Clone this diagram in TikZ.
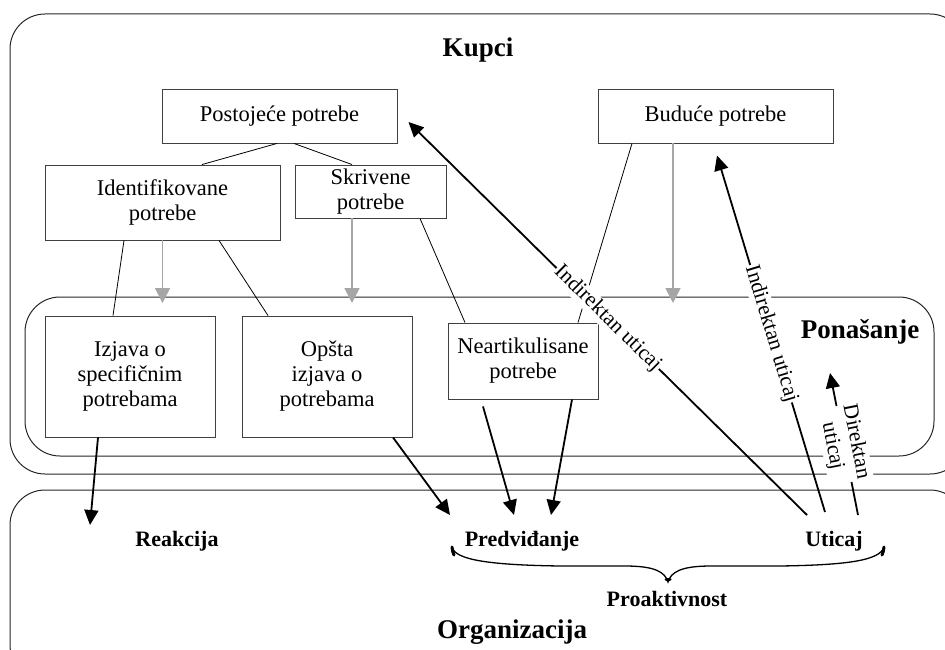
\documentclass[tikz,border=0pt]{standalone}
\usepackage{fontspec}
\setmainfont{Liberation Serif}
\usetikzlibrary{arrows.meta}
\begin{document}
\begin{tikzpicture}[x=1pt,y=-1pt,
  needbox/.style={draw=black!75, line width=0.9pt, align=center, inner sep=2pt,
    font=\fontsize{22.5}{25}\selectfont},
  region/.style={draw=black!85, line width=1pt, rounded corners=35pt},
  title/.style={font=\fontsize{27}{30}\selectfont\bfseries},
  stage/.style={font=\fontsize{22}{25}\selectfont\bfseries},
  link/.style={draw=black, line width=0.8pt},
  flow/.style={draw=black, line width=1.8pt, -{Triangle[length=15pt,width=14pt]}},
  derive/.style={draw=black!35, line width=1.6pt, -{Triangle[length=15pt,width=15pt]}},
  influence/.style={font=\fontsize{21.5}{24}\selectfont, fill=white, inner sep=1pt,
    sloped, midway, align=center}
]
\useasboundingbox (0,0) rectangle (945,650);
\clip (0,0) rectangle (945,650);

% regions
\draw[region] (10,14) rectangle (965,474);
\draw[region] (25,297) rectangle (934,456);
\draw[region] (10,490) rectangle (965,680);

\node[title] (kupci) at (478,50) {Kupci};
\node[title] (pon) at (860,332) {Ponašanje};
\node[title] (org) at (512,632) {Organizacija};

% needs
\node[needbox, minimum width=235pt, minimum height=54pt] (post) at (279.5,116) {Postojeće potrebe};
\node[needbox, minimum width=235pt, minimum height=54pt] (bud) at (715.5,116) {Buduće potrebe};
\node[needbox, minimum width=235pt, minimum height=75pt] (ident) at (162.5,202.5) {Identifikovane\\potrebe};
\node[needbox, minimum width=151pt, minimum height=53pt] (skriv) at (370.5,191.5) {Skrivene\\potrebe};
\node[needbox, minimum width=170pt, minimum height=121pt] (izj) at (130,376.5) {Izjava o\\specifičnim\\potrebama};
\node[needbox, minimum width=170pt, minimum height=121pt] (opsta) at (327,376.5) {Opšta\\izjava o\\potrebama};
\node[needbox, minimum width=150pt, minimum height=76pt] (near) at (523,361) {Neartikulisane\\potrebe};

% organisation responses
\node[stage] (reak) at (177,541) {Reakcija};
\node[stage] (pred) at (522,541) {Predviđanje};
\node[stage] (utic) at (834,541) {Uticaj};
\node[stage] (proak) at (667,599) {Proaktivnost};

% hierarchy lines
\draw[link] ([xshift=-2.5pt]post.south) -- ([xshift=39.5pt]ident.north);
\draw[link] ([xshift=14.5pt]post.south) -- ([xshift=-18.5pt]skriv.north);
\draw[link] ([xshift=-38.5pt]ident.south) -- ([xshift=-17pt]izj.north);
\draw[link] ([xshift=56.5pt]ident.south) -- ([xshift=-59pt]opsta.north);
\draw[link] ([xshift=49.5pt]skriv.south) -- ([xshift=-58pt]near.north);
\draw[link] ([xshift=-83.5pt]bud.south) -- ([xshift=55pt]near.north);

% grey arrows into behaviour
\coordinate (g1) at (162.5,303);
\coordinate (g2) at (352,303);
\coordinate (g3) at (673,303);
\draw[derive] (ident.south) -- (g1);
\draw[derive] ([xshift=-18.5pt]skriv.south) -- (g2);
\draw[derive] ([xshift=-42.5pt]bud.south) -- (g3);

% black arrows into organisation
\coordinate (r1) at (90,525);
\coordinate (p1) at (450,515);
\coordinate (p2) at (514,515);
\coordinate (p3) at (551,515);
\draw[flow] ([xshift=-32pt]izj.south) -- (r1);
\draw[flow] ([xshift=66pt]opsta.south) -- (p1);
\draw[flow] ([xshift=-40pt,yshift=-7pt]near.south) -- (p2);
\draw[flow] ([xshift=49pt]near.south) -- (p3);

% influence arrows
\coordinate (u1) at (807,515);
\coordinate (u2) at (825,512);
\coordinate (u3) at (858,515);
\coordinate (u3end) at (830,373);
\draw[flow] (u1) -- node[influence] {Indirektan uticaj} ([xshift=11pt,yshift=-6pt]post.east);
\draw[flow] (u2) -- node[influence] {Indirektan uticaj} ([xshift=1.5pt,yshift=-12pt]bud.south);
\draw[flow] (u3) -- node[influence] {Direktan\\uticaj} (u3end);

% brace
\draw[line width=1.3pt]
  (452,547) .. controls (455,560) and (490,565) .. (560,566)
  -- (625,566) .. controls (655,566) and (665,572) .. (668,582)
  .. controls (671,572) and (681,566) .. (711,566)
  -- (780,566) .. controls (850,565) and (880,560) .. (884,547);
\draw[line width=3pt, line cap=round] (452,547) .. controls (452.5,551) and (453,553) .. (454,555);
\draw[line width=3pt, line cap=round] (884,547) .. controls (883.5,551) and (883,553) .. (882,555);
\draw[line width=3pt, line cap=round] (666,579) -- (670,579);
\end{tikzpicture}
\end{document}
